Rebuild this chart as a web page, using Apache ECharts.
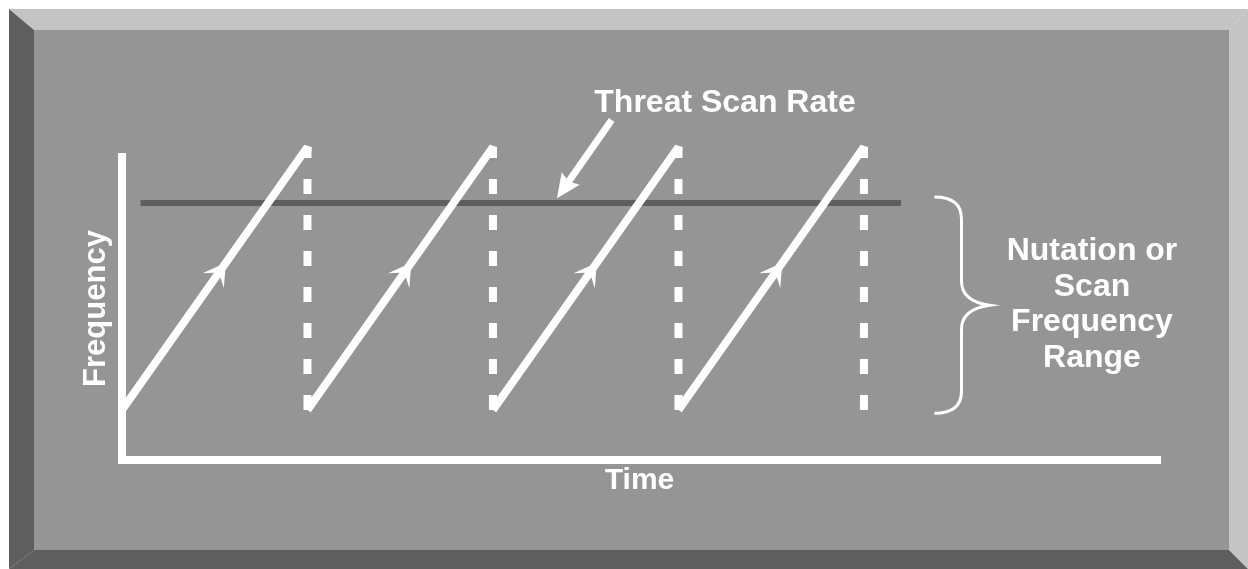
<!DOCTYPE html>
<html>
<head>
<meta charset="utf-8">
<script src="https://cdn.jsdelivr.net/npm/echarts@6/dist/echarts.min.js"></script>
<style>
html,body{margin:0;padding:0;background:#fff;}
#chart{width:1248px;height:569px;}
</style>
</head>
<body>
<div id="chart"></div>
<script>
// ---- data (axis units: time periods, frequency %) ----
const timeMax = 5.58;
const freqMax = 100;
const rampStartT = [0, 1, 2, 3];
const rampEndT = [1, 2, 3, 4];
const scanLow = 16.5;
const scanHigh = 103.3;
const resetT = [1, 2, 3, 4];
const threatRate = 84.8;
const threatSpanT = [0.1, 4.2];
const pointerFrom = [2.64, 112.2];
const pointerTo = [2.345, 86.4];
const braceT = [4.38, 4.526, 4.677];
const braceFreq = [86.8, 15.4];
const labels = {
  x: 'Time',
  y: 'Frequency',
  threat: 'Threat Scan Rate',
  range: ['Nutation or', 'Scan', 'Frequency', 'Range']
};

const FONT = '"Liberation Sans", Arial, sans-serif';
const WHITE = '#ffffff';
const FACE = '#959595';
const LIGHT = '#c4c4c4';
const DARK = '#5e5e5e';

const chart = echarts.init(document.getElementById('chart'), null, {renderer: 'canvas'});

function arrowHead(tip, ang, L, W, notch) {
  const c = Math.cos(ang), s = Math.sin(ang);
  const pts = [[0, 0], [-L, W / 2], [-L * notch, 0], [-L, -W / 2]];
  return pts.map(p => [tip[0] + p[0] * c - p[1] * s, tip[1] + p[0] * s + p[1] * c]);
}

const series = [];

// threat scan rate line
series.push({
  type: 'line', clip: false, silent: true, symbol: 'none', z: 3,
  data: [[threatSpanT[0], threatRate], [threatSpanT[1], threatRate]],
  lineStyle: {color: DARK, width: 6, cap: 'butt'}
});

// dashed reset lines
resetT.forEach(t => {
  series.push({
    type: 'line', clip: false, silent: true, symbol: 'none', z: 4,
    data: [[t, scanHigh], [t, scanLow]],
    lineStyle: {color: WHITE, width: 8, type: [15, 21], dashOffset: 4, cap: 'butt'}
  });
});

// ramps with direction arrows
series.push({
  type: 'custom', clip: false, silent: true, z: 5,
  data: rampStartT.map((t, i) => [t, rampEndT[i]]),
  renderItem: function (params, api) {
    const p0 = api.coord([api.value(0), scanLow]);
    const p1 = api.coord([api.value(1), scanHigh]);
    const ang = Math.atan2(p1[1] - p0[1], p1[0] - p0[0]);
    const f = 0.56;
    const tip = [p0[0] + f * (p1[0] - p0[0]), p0[1] + f * (p1[1] - p0[1])];
    return {
      type: 'group',
      children: [
        {type: 'polyline', shape: {points: [p0, p1, [p1[0], p1[1] + 4]]},
         style: {stroke: WHITE, lineWidth: 8, fill: null, lineJoin: 'bevel', lineCap: 'butt'}},
        {type: 'polygon', shape: {points: arrowHead(tip, ang, 22, 26, 0.55)},
         style: {fill: WHITE}}
      ]
    };
  }
});

// pointer arrow to the threat line
series.push({
  type: 'custom', clip: false, silent: true, z: 5,
  data: [[pointerFrom[0], pointerFrom[1], pointerTo[0], pointerTo[1]]],
  renderItem: function (params, api) {
    const a = api.coord([api.value(0), api.value(1)]);
    const b = api.coord([api.value(2), api.value(3)]);
    const ang = Math.atan2(b[1] - a[1], b[0] - a[0]);
    const L = 24;
    const end = [b[0] - Math.cos(ang) * L * 0.8, b[1] - Math.sin(ang) * L * 0.8];
    return {
      type: 'group',
      children: [
        {type: 'line', shape: {x1: a[0], y1: a[1], x2: end[0], y2: end[1]},
         style: {stroke: WHITE, lineWidth: 7}},
        {type: 'polygon', shape: {points: arrowHead(b, ang, L, 22, 0.85)},
         style: {fill: WHITE}}
      ]
    };
  }
});

// brace marking the scan frequency range
series.push({
  type: 'custom', clip: false, silent: true, z: 5,
  data: [[braceT[0], braceT[1], braceT[2], braceFreq[0], braceFreq[1]]],
  renderItem: function (params, api) {
    const top = api.coord([api.value(0), api.value(3)]);
    const bot = api.coord([api.value(0), api.value(4)]);
    const xa = top[0];
    const xv = api.coord([api.value(1), api.value(3)])[0];
    const xt = api.coord([api.value(2), api.value(3)])[0];
    const y0 = top[1], y1 = bot[1], m = (y0 + y1) / 2;
    const r = 22;
    const path = 'M' + xa + ' ' + y0 +
      ' Q' + xv + ' ' + y0 + ' ' + xv + ' ' + (y0 + r) +
      ' L' + xv + ' ' + (m - 24) +
      ' Q' + xv + ' ' + (m - 4) + ' ' + xt + ' ' + m +
      ' Q' + xv + ' ' + (m + 4) + ' ' + xv + ' ' + (m + 24) +
      ' L' + xv + ' ' + (y1 - r) +
      ' Q' + xv + ' ' + y1 + ' ' + xa + ' ' + y1;
    return {
      type: 'path',
      shape: {pathData: path},
      style: {stroke: WHITE, lineWidth: 3, fill: null}
    };
  }
});

const nameStyle = {color: WHITE, fontSize: 30, fontWeight: 'bold', fontFamily: FONT};

const graphic = [
  {type: 'polygon', z: -10, silent: true, shape: {points: [[9, 9], [1248, 9], [1229, 30], [34, 30]]}, style: {fill: LIGHT}},
  {type: 'polygon', z: -10, silent: true, shape: {points: [[1229, 30], [1248, 9], [1248, 569], [1229, 550]]}, style: {fill: LIGHT}},
  {type: 'polygon', z: -10, silent: true, shape: {points: [[9, 569], [1248, 569], [1229, 550], [34, 550]]}, style: {fill: DARK}},
  {type: 'polygon', z: -10, silent: true, shape: {points: [[9, 9], [34, 30], [34, 550], [9, 569]]}, style: {fill: DARK}},
  {type: 'rect', z: -10, silent: true, shape: {x: 34, y: 30, width: 1195, height: 520}, style: {fill: FACE}},
  {type: 'text', z: 50, silent: true, x: 725, y: 103,
   style: {text: labels.threat, fill: WHITE, font: 'bold 32px ' + FONT, textAlign: 'center', textVerticalAlign: 'middle'}}
];
const rangeY = [251, 287, 322, 358];
labels.range.forEach((s, i) => {
  graphic.push({type: 'text', z: 50, silent: true, x: 1092, y: rangeY[i],
    style: {text: s, fill: WHITE, font: 'bold 32px ' + FONT, textAlign: 'center', textVerticalAlign: 'middle'}});
});

chart.setOption({
  backgroundColor: '#ffffff',
  animation: false,
  grid: {left: 122, right: 91, top: 157, bottom: 109, containLabel: false},
  xAxis: {
    type: 'value', min: 0, max: timeMax,
    axisLine: {show: true, onZero: false, lineStyle: {color: WHITE, width: 8, cap: 'square'}},
    axisTick: {show: false}, axisLabel: {show: false}, splitLine: {show: false},
    name: labels.x, nameLocation: 'middle', nameGap: 6, nameTextStyle: nameStyle
  },
  yAxis: {
    type: 'value', min: 0, max: freqMax,
    axisLine: {show: true, onZero: false, lineStyle: {color: WHITE, width: 8, cap: 'square'}},
    axisTick: {show: false}, axisLabel: {show: false}, splitLine: {show: false},
    name: labels.y, nameLocation: 'middle', nameGap: 10,
    nameTextStyle: Object.assign({}, nameStyle, {fontSize: 31})
  },
  graphic: graphic,
  series: series
});
</script>
</body>
</html>
